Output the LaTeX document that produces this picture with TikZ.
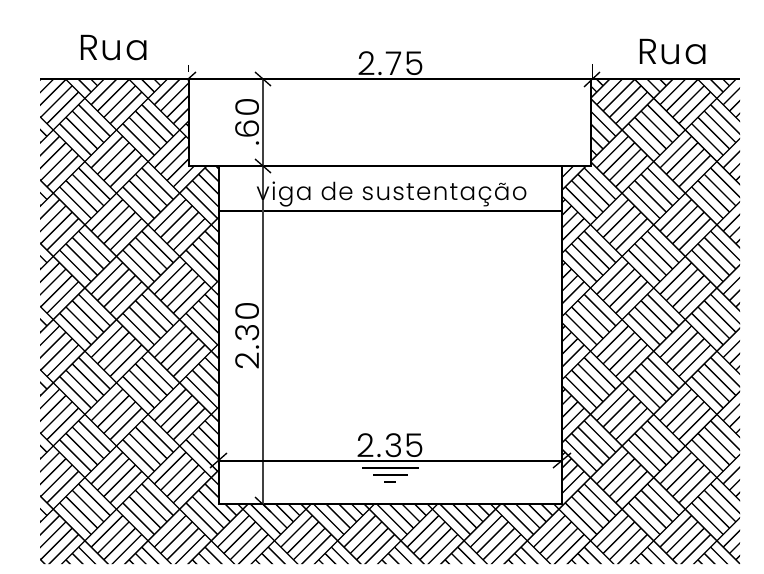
\documentclass[tikz,border=0pt]{standalone}
\usepackage{fontspec}
\setmainfont{Poppins Light}[LetterSpace=5]
\tikzset{
  hatchline/.style={black, line width=1pt},
  wall/.style={black, line width=1.2pt},
  dimline/.style={black!75, line width=1.5pt},
  ticks/.style={black, line width=1pt},
  cadtext/.style={inner sep=0pt, anchor=base, font=\fontsize{#1}{#1}\selectfont}
}
\begin{document}
\begin{tikzpicture}[x=0.75pt, y=-0.75pt]
\useasboundingbox (0,0) rectangle (764,574);
% soil
\begin{scope}
\clip (40,79) -- (189,79) -- (189,166) -- (219,166) -- (219,504) -- (562,504) -- (562,166) -- (591,166) -- (591,79) -- (740,79) -- (740,564) -- (40,564) -- cycle;
\foreach \i in {-3,...,20} {
  \foreach \j in {-2,...,14} {
    \ifodd\numexpr\i+\j+100\relax
      \pgfmathsetmacro{\cx}{116.5+31.6*\i}
      \pgfmathsetmacro{\cy}{130+31.6*\j}
      \foreach \s in {0,...,5} {
        \ifodd\numexpr\i+100\relax
          \draw[hatchline] (\cx-31.6+6.32*\s,\cy-6.32*\s) -- (\cx+6.32*\s,\cy+31.6-6.32*\s);
        \else
          \draw[hatchline] (\cx-31.6+6.32*\s,\cy+6.32*\s) -- (\cx+6.32*\s,\cy-31.6+6.32*\s);
        \fi
      }
    \fi
  }
}
\end{scope}
% trench
\draw[black, line width=1.7pt] (40,79) -- (740,79);
\draw[wall] (189,79) -- (189,166) -- (591,166) -- (591,79);
\draw[wall] (219,166) -- (219,504) -- (562,504) -- (562,166);
\draw[wall] (219,211) -- (562,211);
% dimensions
\draw[dimline] (263,79) -- (263,504);
\draw[black, line width=1.3pt] (219,461) -- (562,461);
\draw[ticks] (187,80) -- (196,72);
\draw[thin] (188,65) -- (188,72);
\draw[ticks] (584,87) -- (600,72);
\draw[thin] (592,64) -- (592,80);
\draw[ticks] (255,72) -- (271,86);
\draw[ticks] (255,159) -- (271,173);
\draw[ticks] (255,497) -- (271,512);
\draw[ticks] (210,468) -- (227,453);
\draw[ticks] (553,468) -- (571,453);
% water level
\draw[ticks] (362,468) -- (419,468);
\draw[ticks] (373,475) -- (408,475);
\draw[ticks] (384,482) -- (396,482);
% labels
\node[cadtext=27] (ruaL) at (114,61) {Rua};
\node[cadtext=27] (ruaR) at (673,65) {Rua};
\node[cadtext=24.5] (top) at (391,76) {2.75};
\node[cadtext=24.5] (water) at (390.5,457) {2.35};
\node[cadtext=18.5] (viga) at (392,200) {viga de sustentação};
\node[cadtext=24.5, rotate=90] (depthA) at (259,122) {.60};
\node[cadtext=24.5, rotate=90] (depthB) at (259,336) {2.30};
\end{tikzpicture}
\end{document}
